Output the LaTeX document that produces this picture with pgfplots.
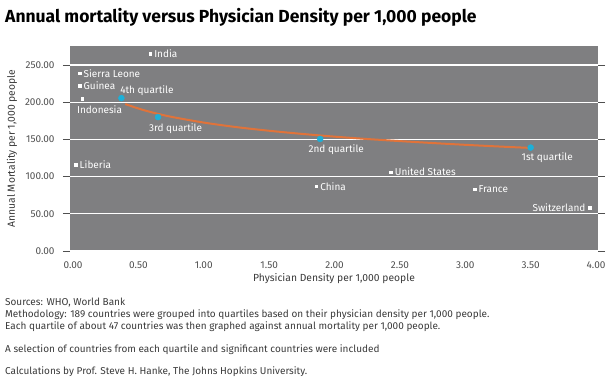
\documentclass[border=0pt]{standalone}
\usepackage{pgfplots}
\pgfplotsset{compat=1.18}
\usepackage{fontspec}
\setmainfont{Fira Sans}
\definecolor{plotbg}{HTML}{7F7F81}
\definecolor{trend}{HTML}{E0733A}
\definecolor{qblue}{HTML}{1DB0D8}
\definecolor{txt}{HTML}{3A3A3A}
\definecolor{ticktxt}{HTML}{505050}
\begin{document}
\begin{tikzpicture}[x=1pt,y=1pt]
\useasboundingbox (0,0) rectangle (612,-386);
\node[anchor=west,font=\bfseries\fontsize{17.5}{20}\selectfont,text=black,inner sep=0] at (5,-17) {Annual mortality versus Physician Density per 1,000 people};
\begin{axis}[
  at={(70pt,-251pt)}, anchor=south west,
  scale only axis, width=528pt, height=205pt,
  xmin=-0.023, xmax=4.015, ymin=0, ymax=275.5,
  axis background/.style={fill=plotbg},
  axis line style={draw=none},
  xtick={0,0.5,...,4}, ytick={0,50,...,250},
  x tick style={draw=none},
  y tick style={draw=ticktxt, line width=0.8pt},
  tick align=outside, major tick length=7pt,
  ymajorgrids, grid style={white, line width=1.2pt},
  /pgf/number format/.cd, fixed, fixed zerofill, precision=2, 1000 sep={}, assume math mode=true,
  /pgfplots/.cd,
  ticklabel style={font=\fontsize{10}{12}\selectfont, text=ticktxt},
  yticklabel style={xshift=-5pt},
  xlabel={Physician Density per 1,000 people},
  ylabel={Annual Mortality per 1,000 people},
  label style={font=\fontsize{10.3}{12}\selectfont, text=txt},
  xlabel style={yshift=2pt},
  ylabel style={yshift=1pt},
  clip=false,
]
% trend line (log fit)
\addplot[trend, line width=2pt, smooth] coordinates {
 (0.40,197.5) (0.50,191.5) (0.60,186.5) (0.75,180.4) (1.00,172.6)
 (1.25,166.5) (1.50,161.6) (1.75,157.4) (2.00,153.7) (2.25,150.5)
 (2.50,147.7) (2.75,145.1) (3.00,142.7) (3.25,140.5) (3.50,138.5)};
% quartiles
\addplot[only marks, mark=*, mark size=3pt, qblue, mark options={draw=qblue}] coordinates {
 (0.37,205.5) (0.65,180) (1.89,150.6) (3.50,139)};
% countries
\addplot[only marks, mark=square*, mark size=1.3pt, white] coordinates {
 (0.59,265) (0.05,239) (0.05,222) (0.07,204.5) (0.02,115.6)
 (1.86,87) (2.43,106) (3.07,83) (3.95,58)};
\begin{scope}[every node/.style={font=\fontsize{10}{12}\selectfont, text=white, inner sep=0}]
\node[anchor=west] at (axis cs:0.62,265) {India};
\node[anchor=west] at (axis cs:0.08,239) {Sierra Leone};
\node[anchor=west] at (axis cs:0.08,222) {Guinea};
\node[anchor=north west] at (axis cs:0.03,196) {Indonesia};
\node[anchor=west] at (axis cs:0.05,115.6) {Liberia};
\node[anchor=west] at (axis cs:1.89,87) {China};
\node[anchor=west] at (axis cs:2.46,106) {United States};
\node[anchor=west] at (axis cs:3.10,83) {France};
\node[anchor=east] at (axis cs:3.92,58) {Switzerland};
\node[anchor=south west] at (axis cs:0.36,209) {4th quartile};
\node[anchor=north west] at (axis cs:0.58,172) {3rd quartile};
\node[anchor=north west] at (axis cs:1.80,143) {2nd quartile};
\node[anchor=north west] at (axis cs:3.43,132) {1st quartile};
\end{scope}
\end{axis}
\begin{scope}[every node/.style={anchor=west, inner sep=0, font=\fontsize{10}{12}\selectfont, text=txt}]
\node at (5,-303) {Sources: WHO, World Bank};
\node at (5,-315) {Methodology: 189 countries were grouped into quartiles based on their physician density per 1,000 people.};
\node at (5,-326.5) {Each quartile of about 47 countries was then graphed against annual mortality per 1,000 people.};
\node at (5,-350) {A selection of countries from each quartile and significant countries were included};
\node at (5,-372) {Calculations by Prof. Steve H. Hanke, The Johns Hopkins University.};
\end{scope}
\end{tikzpicture}
\end{document}
